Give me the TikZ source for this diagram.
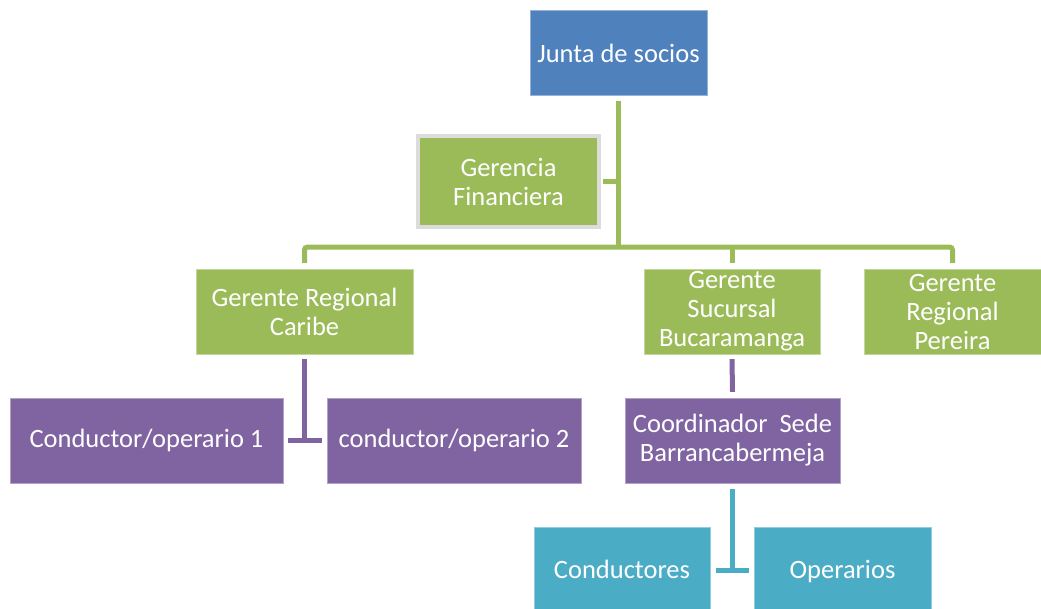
\documentclass[tikz,border=0pt]{standalone}
\usepackage{fontspec}
\setmainfont{Carlito}
\usetikzlibrary{positioning,calc}
\definecolor{orgblue}{HTML}{4F81BD}
\definecolor{orggreen}{HTML}{9BBB59}
\definecolor{orgpurple}{HTML}{8064A2}
\definecolor{orgteal}{HTML}{4BACC6}
\definecolor{orggray}{HTML}{DCDCDC}
\begin{document}
\begin{tikzpicture}[x=1pt,y=-1pt,
  box/.style={rectangle,inner sep=0pt,text=white,align=center,
              font=\fontsize{26.5}{29}\selectfont,minimum height=85pt},
  leaf/.style={box,fill=orgteal,draw=orgteal!60!white,minimum height=86pt,
              text height=17pt,text depth=0pt},
  lnk/.style={line width=5pt}
]
\useasboundingbox (0,0) rectangle (1041,608);

% Top level
\node[box,fill=orgblue,draw=orgblue!60!white,minimum width=177pt]
  (junta) at (618.5,53) {Junta de socios};
\node[box,fill=orggreen,draw=orggray,line width=4pt,minimum width=181pt,minimum height=91pt]
  (fin) at (508.5,181.5) {Gerencia\\Financiera};

% ---- Gerentes ----------------------------------------------
\node[box,fill=orggreen,draw=orggreen!60!white,minimum width=217pt]
  (caribe) at (304.5,311.5) {Gerente Regional\\Caribe};
\node[box,fill=orggreen,draw=orggreen!60!white,minimum width=176pt]
  (buca) at (732,311.5) {Gerente\\Sucursal\\Bucaramanga};
\node[box,fill=orggreen,draw=orggreen!60!white,minimum width=177pt]
  (pereira) at (952.5,311.5) {Gerente\\Regional\\Pereira};

% ---- Personal ----------------------------------------------
\node[box,fill=orgpurple,draw=orgpurple!60!white,minimum width=273pt]
  (op1) at (146.5,440.5) {Conductor/operario 1};
\node[box,fill=orgpurple,draw=orgpurple!60!white,minimum width=254pt]
  (op2) at (454,440.5) {conductor/operario 2};
\node[box,fill=orgpurple,draw=orgpurple!60!white,minimum width=215pt]
  (coord) at (732.5,440.5) {Coordinador\ \ Sede\\Barrancabermeja};
\node[leaf,minimum width=176pt] (cond) at (622,570) {Conductores};
\node[leaf,minimum width=177pt] (oper) at (842.5,570) {Operarios};

% ---- Connectors --------------------------------------------
\coordinate (bus) at (junta.south |- 0,247);
\draw[orggreen,lnk] ([yshift=-5pt]junta.south) -- (bus);
\draw[orggreen,lnk] ([xshift=2pt]fin.east) -- (fin.east -| junta.south);
\draw[orggreen,lnk,rounded corners=3pt]
  ([yshift=6pt]caribe.north) |- (bus) -| ([yshift=6pt]pereira.north);
\draw[orggreen,lnk] (bus -| buca.north) -- ([yshift=6pt]buca.north);

\draw[orgpurple,lnk] ([yshift=-5pt]caribe.south) -- (caribe.south |- op1.east);
\draw[orgpurple,lnk] ([xshift=5pt]op1.east) -- ([xshift=-5pt]op2.west);
\draw[orgpurple,lnk] ([yshift=-5pt]buca.south) -- ([yshift=6pt]coord.north);

\draw[orgteal,lnk] ([yshift=-6pt]coord.south) -- (coord.south |- cond.east);
\draw[orgteal,lnk] ([xshift=6pt]cond.east) -- ([xshift=-5pt]oper.west);

\end{tikzpicture}
\end{document}
